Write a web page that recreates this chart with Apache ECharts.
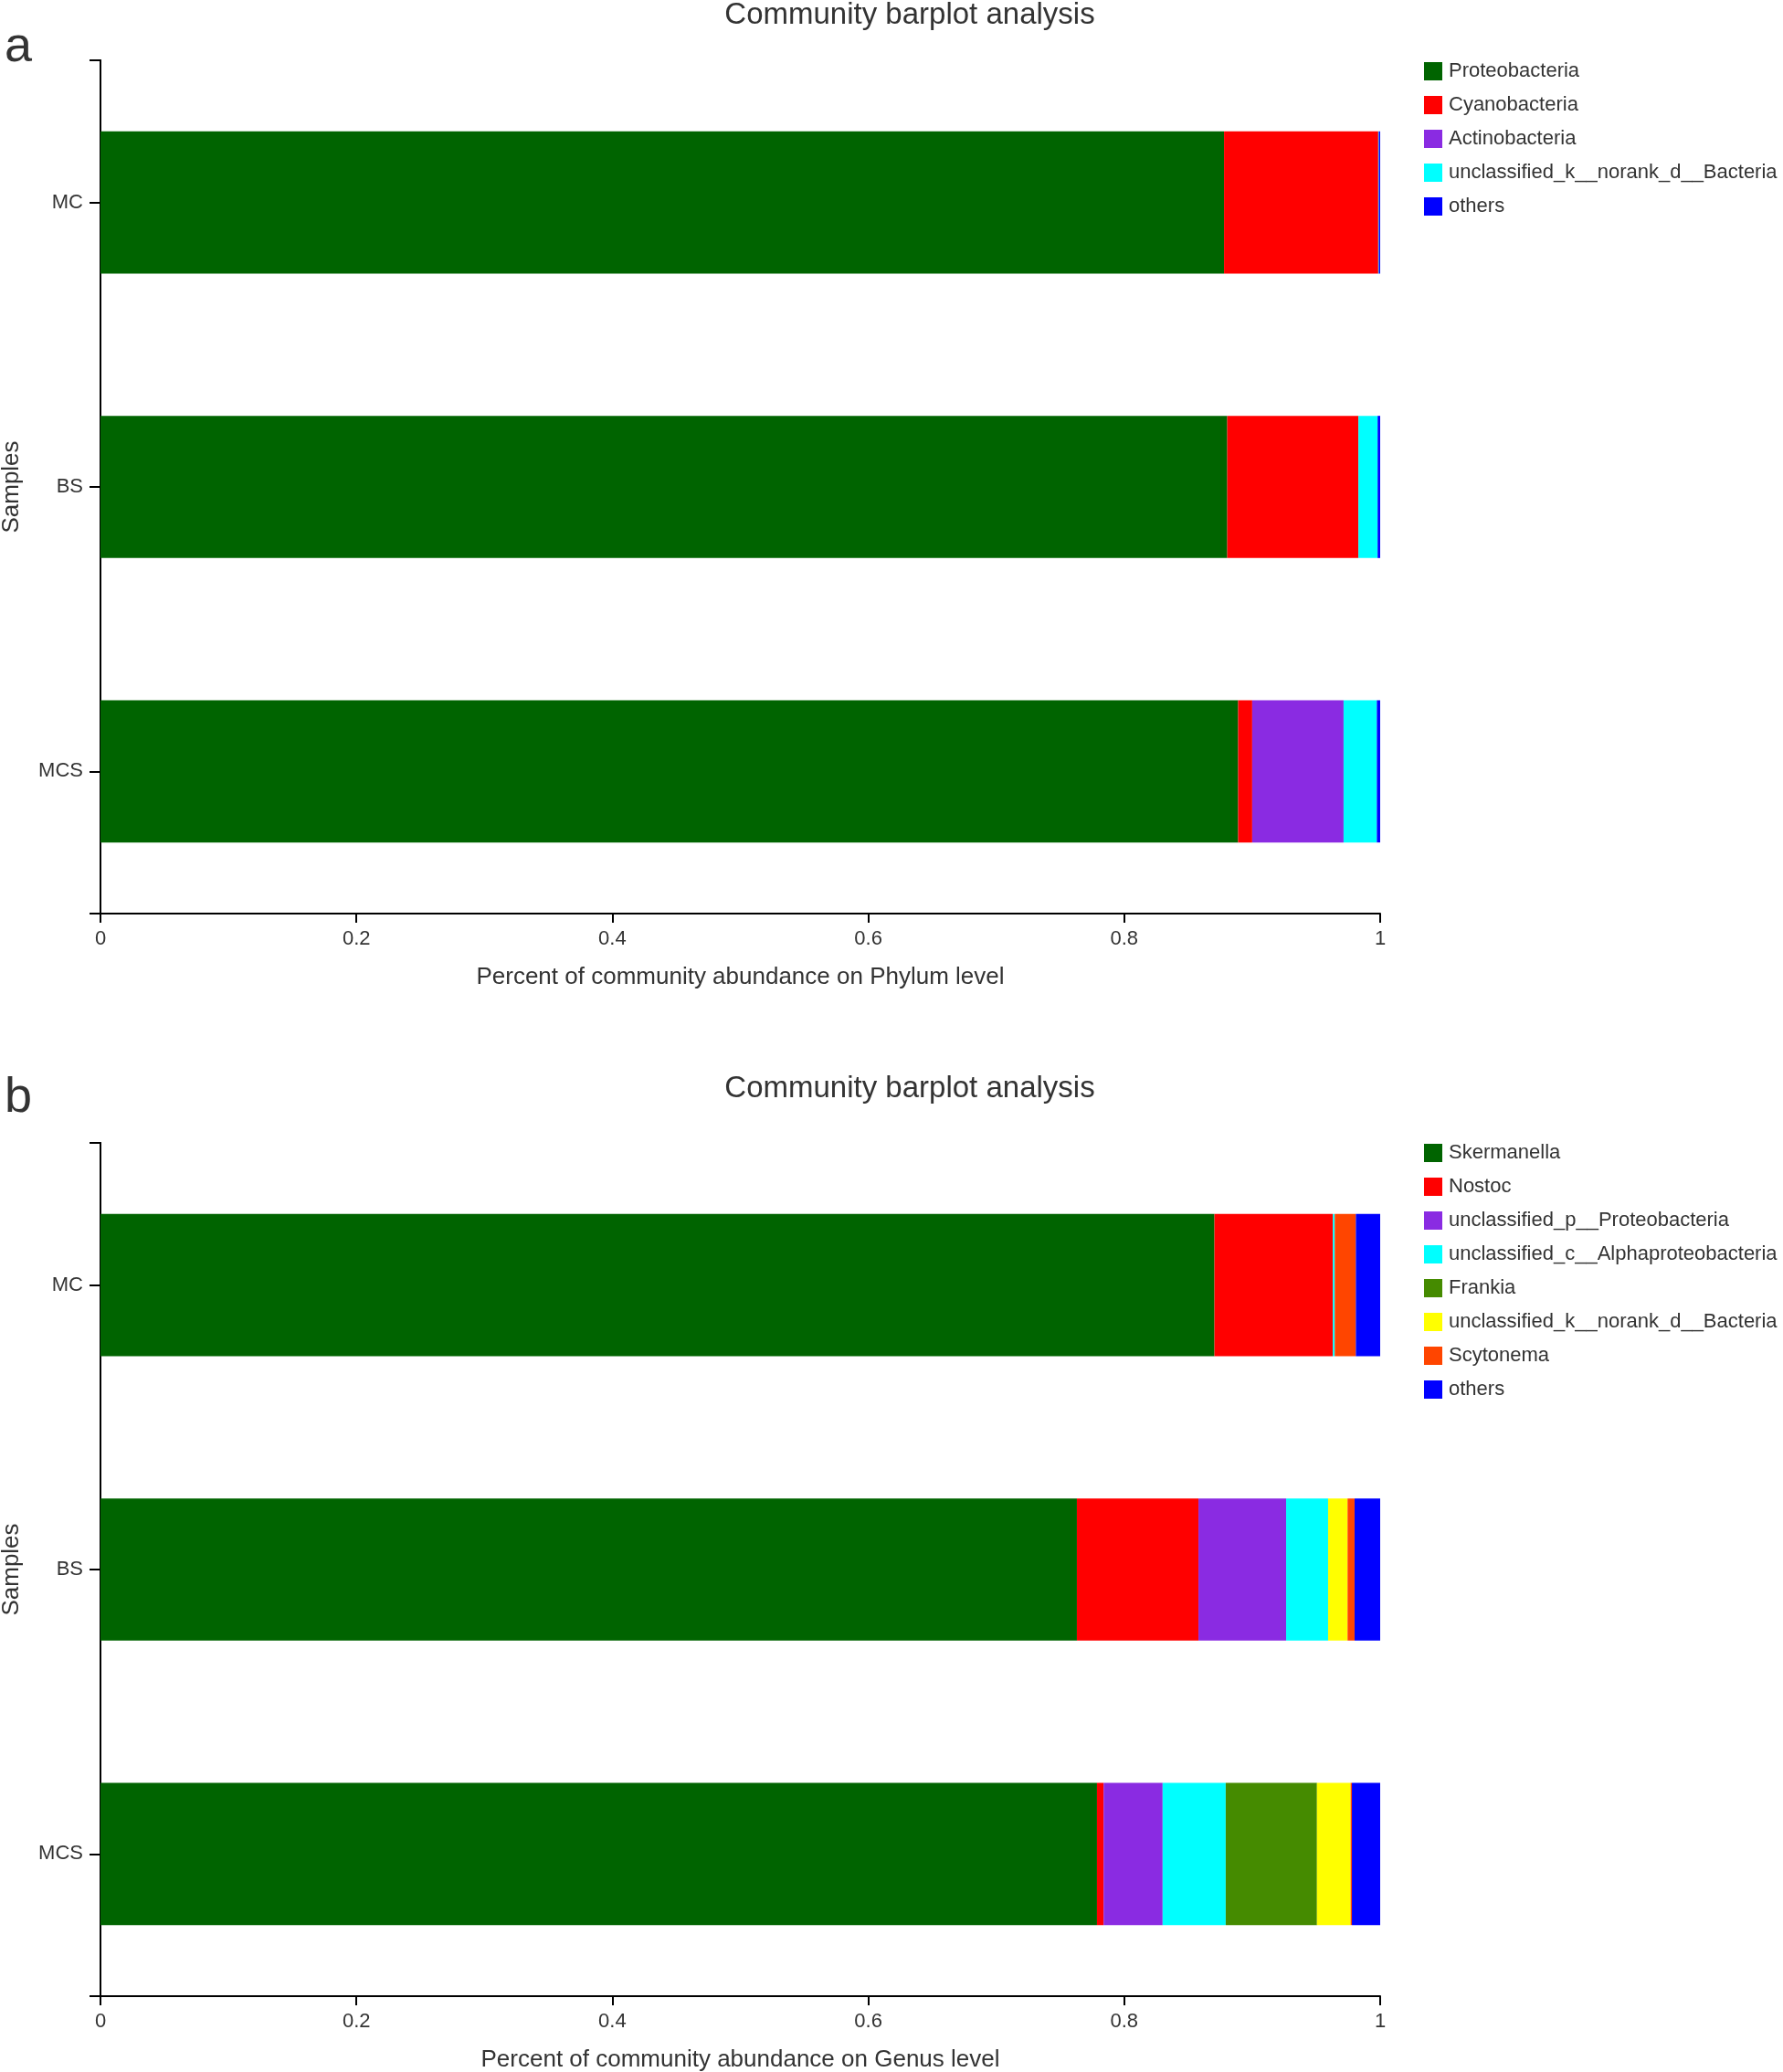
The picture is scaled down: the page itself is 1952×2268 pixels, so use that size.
<!DOCTYPE html>
<html>
<head>
<meta charset="utf-8">
<script src="https://cdn.jsdelivr.net/npm/echarts@6/dist/echarts.min.js"></script>
<style>html,body{margin:0;padding:0;background:#fff}#c{width:1952px;height:2268px}</style>
</head>
<body>
<div id="c"></div>
<script>
const samples = ['MC', 'BS', 'MCS'];
const xTicks = [0, 0.2, 0.4, 0.6, 0.8, 1];

// Panel a: phylum level
const phylumNames = ['Proteobacteria', 'Cyanobacteria', 'Actinobacteria', 'unclassified_k__norank_d__Bacteria', 'others'];
const proteobacteria = [0.878, 0.8805, 0.889];
const cyanobacteria = [0.1205, 0.1025, 0.011];
const actinobacteria = [0.0, 0.0, 0.0714];
const unclassK_a = [0.0005, 0.015, 0.026];
const others_a = [0.001, 0.002, 0.0026];
const phylumColors = ['#006400', '#ff0000', '#8a2be2', '#00ffff', '#0000ff'];

// Panel b: genus level
const genusNames = ['Skermanella', 'Nostoc', 'unclassified_p__Proteobacteria', 'unclassified_c__Alphaproteobacteria', 'Frankia', 'unclassified_k__norank_d__Bacteria', 'Scytonema', 'others'];
const skermanella = [0.8705, 0.763, 0.7787];
const nostoc = [0.0925, 0.095, 0.0052];
const unclassP = [0.0, 0.0685, 0.0461];
const unclassC = [0.0015, 0.0328, 0.0493];
const frankia = [0.0, 0.0, 0.0713];
const unclassK_b = [0.0, 0.0152, 0.0263];
const scytonema = [0.0165, 0.0055, 0.001];
const others_b = [0.019, 0.020, 0.0221];
const genusColors = ['#006400', '#ff0000', '#8a2be2', '#00ffff', '#458b00', '#ffff00', '#ff4500', '#0000ff'];

const phylumData = [proteobacteria, cyanobacteria, actinobacteria, unclassK_a, others_a];
const genusData = [skermanella, nostoc, unclassP, unclassC, frankia, unclassK_b, scytonema, others_b];

const TXT = '#333';
const FONT = 'Liberation Sans, Arial, sans-serif';
const NARROW = 'Liberation Sans Narrow, Liberation Sans, Arial, sans-serif';

const grids = [
  {left: 110, top: 66, width: 1401, height: 934, outerBoundsMode: 'none', containLabel: false},
  {left: 110, top: 1251, width: 1401, height: 934, outerBoundsMode: 'none', containLabel: false}
];
const levelNames = ['Percent of community abundance on Phylum level', 'Percent of community abundance on Genus level'];

const xAxes = [], yAxes = [];
[0, 1].forEach(g => {
  xAxes.push({
    type: 'value', gridIndex: g, min: 0, max: 1, interval: 0.2,
    name: levelNames[g], nameLocation: 'middle', nameGap: 57,
    nameTextStyle: {color: TXT, fontSize: 26, fontFamily: FONT},
    axisLine: {show: true, lineStyle: {color: '#000', width: 2}},
    axisTick: {show: true, length: 10, lineStyle: {color: '#000', width: 2}},
    axisLabel: {color: TXT, fontSize: 22, fontFamily: NARROW, margin: 17},
    splitLine: {show: false}
  });
  yAxes.push({
    type: 'category', gridIndex: g, data: samples, inverse: true, position: 'left',
    name: 'Samples', nameLocation: 'middle', nameGap: 84,
    nameTextStyle: {color: TXT, fontSize: 26, fontFamily: FONT},
    axisLine: {show: true, lineStyle: {color: '#000', width: 2}},
    axisTick: {show: true, alignWithLabel: true, length: 12, lineStyle: {color: '#000', width: 2}},
    axisLabel: {color: TXT, fontSize: 22, fontFamily: FONT, margin: 19},
    splitLine: {show: false}
  });
});
// end ticks of the sample axes
[0, 1].forEach(g => {
  yAxes.push({
    type: 'value', gridIndex: g, min: 0, max: 1, interval: 1, position: 'left', offset: 0,
    axisLine: {show: true, lineStyle: {color: '#000', width: 2}},
    axisTick: {show: true, length: 12, lineStyle: {color: '#000', width: 2}},
    axisLabel: {show: false}, splitLine: {show: false}
  });
});

const series = [];
phylumNames.forEach((n, i) => series.push({
  name: n, type: 'bar', stack: 'a', xAxisIndex: 0, yAxisIndex: 0, barWidth: '50%',
  itemStyle: {color: phylumColors[i]}, data: phylumData[i], animation: false
}));
genusNames.forEach((n, i) => series.push({
  name: n, type: 'bar', stack: 'b', xAxisIndex: 1, yAxisIndex: 1, barWidth: '50%',
  itemStyle: {color: genusColors[i]}, data: genusData[i], animation: false
}));

const legendCommon = {
  orient: 'vertical', left: 1554, itemWidth: 20, itemHeight: 20, itemGap: 15,
  icon: 'rect', selectedMode: false,
  textStyle: {color: TXT, fontSize: 22, fontFamily: FONT, padding: [0, 0, 0, 2]}
};

const option = {
  backgroundColor: '#fff',
  animation: false,
  title: [
    {text: 'Community barplot analysis', left: 996, top: 0, padding: 0, textAlign: 'center', textStyle: {color: TXT, fontSize: 33, fontWeight: 'normal', fontFamily: FONT}},
    {text: 'Community barplot analysis', left: 996, top: 1175, padding: 0, textAlign: 'center', textStyle: {color: TXT, fontSize: 33, fontWeight: 'normal', fontFamily: FONT}},
    {text: 'a', left: 0, top: 20, textStyle: {color: TXT, fontSize: 54, fontWeight: 'normal', fontFamily: FONT}},
    {text: 'b', left: 0, top: 1170, textStyle: {color: TXT, fontSize: 54, fontWeight: 'normal', fontFamily: FONT}}
  ],
  legend: [
    Object.assign({}, legendCommon, {top: 62, data: phylumNames.map((n, i) => ({name: n, itemStyle: {color: phylumColors[i]}}))}),
    Object.assign({}, legendCommon, {top: 1246, data: genusNames.map((n, i) => ({name: n, itemStyle: {color: genusColors[i]}}))})
  ],
  grid: grids,
  xAxis: xAxes,
  yAxis: yAxes,
  series: series
};

const chart = echarts.init(document.getElementById('c'), null, {renderer: 'canvas'});
chart.setOption(option);
</script>
</body>
</html>
